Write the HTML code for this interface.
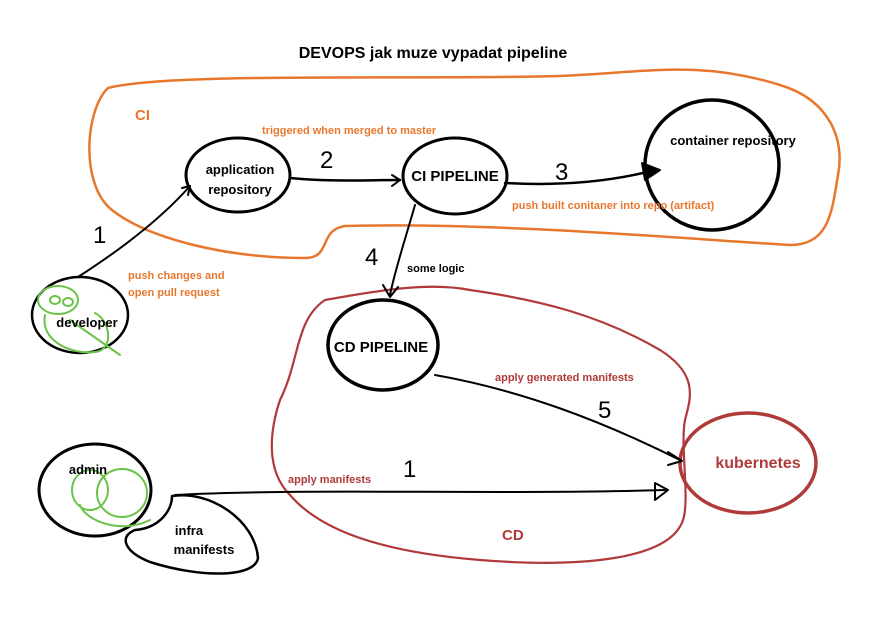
<!DOCTYPE html>
<html><head><meta charset="utf-8"><style>
html,body{margin:0;padding:0;background:#fff;width:873px;height:623px;overflow:hidden}
svg{display:block}
text{font-family:"Liberation Sans",sans-serif;font-weight:bold}
</style></head><body>
<svg width="873" height="623" viewBox="0 0 873 623" xmlns="http://www.w3.org/2000/svg">
<g fill="none" stroke-linecap="round" stroke-linejoin="round">
<path d="M108 88 C170 72 420 80 560 76 C650 72 700 60 780 85 C830 100 845 140 838 175 C832 210 830 245 790 245 C700 240 500 222 345 226 C318 230 332 258 305 258 C230 258 150 240 112 210 C80 185 85 110 108 88 Z" stroke="#e8772e" stroke-width="2.5"/>
<path d="M325 300 C380 290 430 282 470 290 C540 300 600 315 660 350 C700 375 690 400 685 420 C680 445 690 500 683 520 C670 560 580 568 480 560 C380 552 320 530 290 495 C265 470 270 430 280 400 C300 360 295 320 325 300 Z" stroke="#b03a3a" stroke-width="2.2"/>
<ellipse cx="238" cy="175" rx="52" ry="37" stroke="#000" stroke-width="3"/>
<ellipse cx="455" cy="176" rx="52" ry="38" stroke="#000" stroke-width="3"/>
<ellipse cx="712" cy="165" rx="67" ry="65" stroke="#000" stroke-width="3.5"/>
<ellipse cx="383" cy="345" rx="55" ry="45" stroke="#000" stroke-width="3.5"/>
<ellipse cx="748" cy="463" rx="68" ry="50" stroke="#b03a3a" stroke-width="3.5"/>
<ellipse cx="80" cy="315" rx="48" ry="38" stroke="#000" stroke-width="2.5"/>
<ellipse cx="95" cy="490" rx="56" ry="46" stroke="#000" stroke-width="3"/>
<path d="M172 496 C210 490 255 520 258 558 C255 578 200 578 150 562 C125 552 118 537 135 530 C160 528 172 510 172 496 Z" stroke="#000" stroke-width="2.5"/>
<g stroke="#6cc24a" stroke-width="2">
<ellipse cx="58" cy="300" rx="20" ry="14"/><ellipse cx="55" cy="300" rx="5" ry="4"/><ellipse cx="68" cy="302" rx="5" ry="4"/>
<path d="M45 315 C40 340 70 355 95 352 C115 350 110 320 95 313 M70 320 L120 355"/>
<ellipse cx="90" cy="490" rx="18" ry="20"/><ellipse cx="122" cy="493" rx="25" ry="24"/>
<path d="M80 505 C85 520 120 535 150 520"/>
</g>
<g stroke="#000" stroke-width="2">
<path d="M78 277 C120 250 160 220 190 186"/><path d="M182 188 L190 186 L188 195"/>
<path d="M290 178 C330 182 370 180 400 180" stroke-width="2.5"/><path d="M392 175 L400 180 L392 186"/>
<path d="M505 183 C560 186 610 182 655 170" stroke-width="2.5"/><path d="M642 163 L660 170 L645 180 Z" fill="#000"/>
<path d="M415 205 C405 240 395 270 390 295"/><path d="M383 285 L390 297 L398 287"/>
<path d="M435 375 C520 390 600 420 680 460"/><path d="M668 452 L682 461 L668 465"/>
<path d="M175 495 C300 488 500 495 665 490"/><path d="M655 483 L668 490 L655 500 Z"/>
</g>
</g>
<text x="433" y="58" font-size="16" text-anchor="middle" fill="#000">DEVOPS jak muze vypadat pipeline</text>
<g font-size="13" fill="#000" text-anchor="middle">
<text x="240" y="174">application</text><text x="240" y="194">repository</text>
<text x="733" y="145">container repository</text>
<text x="87" y="327">developer</text>
<text x="88" y="474">admin</text>
<text x="189" y="535">infra</text><text x="204" y="554">manifests</text>
</g>
<text x="455" y="181" font-size="15" text-anchor="middle">CI PIPELINE</text>
<text x="381" y="352" font-size="15" text-anchor="middle">CD PIPELINE</text>
<text x="758" y="468" font-size="16" fill="#b03a3a" text-anchor="middle">kubernetes</text>
<text x="135" y="120" font-size="15" fill="#e8772e">CI</text>
<text x="502" y="540" font-size="15" fill="#b03a3a">CD</text>
<g font-size="11" fill="#e8772e">
<text x="262" y="134">triggered when merged to master</text>
<text x="512" y="209">push built conitaner into repo (artifact)</text>
<text x="128" y="279">push changes and</text><text x="128" y="296">open pull request</text>
</g>
<g font-size="11" fill="#b03a3a">
<text x="495" y="381">apply generated manifests</text>
<text x="288" y="483">apply manifests</text>
</g>
<text x="407" y="272" font-size="11" fill="#000">some logic</text>
<g font-size="24" fill="#000">
<text x="93" y="243" style="font-weight:normal">1</text>
<text x="320" y="168" style="font-weight:normal">2</text>
<text x="555" y="180" style="font-weight:normal">3</text>
<text x="365" y="265" style="font-weight:normal">4</text>
<text x="598" y="418" style="font-weight:normal">5</text>
<text x="403" y="477" style="font-weight:normal">1</text>
</g>
</svg>
</body></html>
